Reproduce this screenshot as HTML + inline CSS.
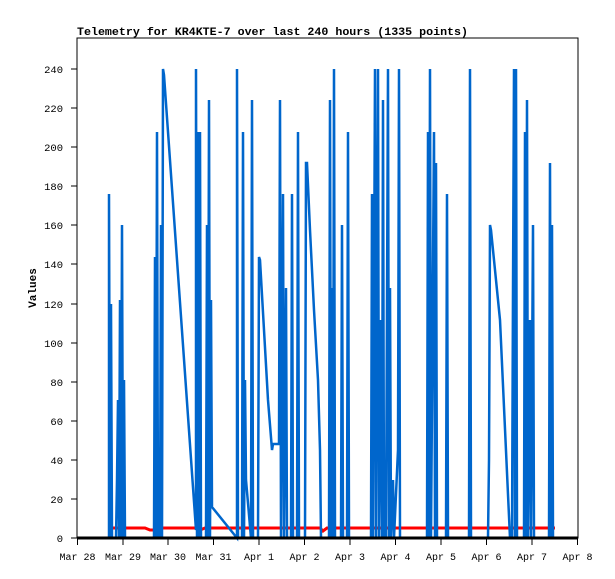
<!DOCTYPE html>
<html><head><style>
html,body{margin:0;padding:0;background:#fff;}
svg{display:block;font-family:"Liberation Mono","DejaVu Sans Mono",monospace;}
</style></head><body>
<svg width="615" height="579" xmlns="http://www.w3.org/2000/svg">
<rect width="615" height="579" fill="#fff"/>
<text x="77" y="35" font-size="11.4" font-weight="bold" textLength="391" lengthAdjust="spacingAndGlyphs">Telemetry for KR4KTE-7 over last 240 hours (1335 points)</text>
<rect x="77" y="38" width="501" height="500" fill="none" stroke="#000" stroke-width="1"/>
<g stroke="#000">
<line x1="71" y1="538" x2="77" y2="538"/><line x1="71" y1="499" x2="77" y2="499"/><line x1="71" y1="460" x2="77" y2="460"/><line x1="71" y1="421" x2="77" y2="421"/><line x1="71" y1="382" x2="77" y2="382"/><line x1="71" y1="343" x2="77" y2="343"/><line x1="71" y1="304" x2="77" y2="304"/><line x1="71" y1="264" x2="77" y2="264"/><line x1="71" y1="225" x2="77" y2="225"/><line x1="71" y1="186" x2="77" y2="186"/><line x1="71" y1="147" x2="77" y2="147"/><line x1="71" y1="108" x2="77" y2="108"/><line x1="71" y1="69" x2="77" y2="69"/>
</g>
<g font-size="10.5" text-anchor="end">
<text x="63" y="542">0</text><text x="63" y="503">20</text><text x="63" y="464">40</text><text x="63" y="425">60</text><text x="63" y="386">80</text><text x="63" y="347">100</text><text x="63" y="308">120</text><text x="63" y="268">140</text><text x="63" y="229">160</text><text x="63" y="190">180</text><text x="63" y="151">200</text><text x="63" y="112">220</text><text x="63" y="73">240</text>
</g>
<text x="36" y="288" font-size="11" font-weight="bold" transform="rotate(-90 36 288)" text-anchor="middle">Values</text>
<g stroke="#000"><line x1="77.5" y1="538" x2="77.5" y2="545"/><line x1="123" y1="538" x2="123" y2="545"/><line x1="168" y1="538" x2="168" y2="545"/><line x1="213.5" y1="538" x2="213.5" y2="545"/><line x1="259" y1="538" x2="259" y2="545"/><line x1="304.5" y1="538" x2="304.5" y2="545"/><line x1="350" y1="538" x2="350" y2="545"/><line x1="395.5" y1="538" x2="395.5" y2="545"/><line x1="441" y1="538" x2="441" y2="545"/><line x1="486.5" y1="538" x2="486.5" y2="545"/><line x1="532" y1="538" x2="532" y2="545"/><line x1="577.5" y1="538" x2="577.5" y2="545"/></g>
<g font-size="10" text-anchor="middle">
<text x="77.5" y="560">Mar 28</text><text x="123" y="560">Mar 29</text><text x="168" y="560">Mar 30</text><text x="213.5" y="560">Mar 31</text><text x="259" y="560">Apr 1</text><text x="304.5" y="560">Apr 2</text><text x="350" y="560">Apr 3</text><text x="395.5" y="560">Apr 4</text><text x="441" y="560">Apr 5</text><text x="486.5" y="560">Apr 6</text><text x="532" y="560">Apr 7</text><text x="577.5" y="560">Apr 8</text>
</g>
<polyline fill="none" stroke="#ff0000" stroke-width="3" points="108,528 145,528 150,530 155,530 160,528 195,528 200,530 205,528 320,528 323,531 327,528 555,528"/>
<polyline fill="none" stroke="#0066cc" stroke-width="2.5" points="
108,538 109,538 109,194 110,538 111,304 112,538 116,538 117,480 118,400 119,538 120,300 121,538 122,225 123,538 124,380 125,538
154,538 155,257 156,538 157,132 158,538 159,475 160,538 161,225 162,538 163,69 164,75 196,530 196,69 197,538 198,132 199,538 200,132 201,538
206,538 207,225 208,538 209,100 210,538 211,300 212,507 237,538 237,69 238,538 242,538 243,132 244,538 245,380 246,480 251,538 252,100 253,538
258,538 259,257 260,260 268,400 272,450 273,444 279,444 280,100 281,538 283,194 284,538 286,288 287,538 291,538 292,194 293,538 297,538 298,132 299,538
305,538 306,163 307,163 310,230 314,310 318,380 320,450 321,538 329,538 330,100 331,538 332,288 333,538 334,69 335,538 341,538 342,225 343,538 347,538 348,132 349,538
371,538 372,194 373,538 375,69 376,538 378,69 379,538 381,320 382,538 383,100 384,538 385,480 386,538 388,69 389,538 390,288 391,538 393,480 394,538 398,450 399,69 400,538
427,538 428,132 429,538 430,69 431,538 434,132 435,538 436,163 437,538 446,538 447,194 448,538
469,538 470,69 471,538 488,538 489,460 490,225 491,230 500,320 510,538
512,538 513,288 514,69 515,538 516,69 517,538 524,538 525,132 526,538 527,100 528,538 530,320 531,538 533,225 534,538
549,538 550,163 551,538 552,225 553,538"/>
<line x1="77" y1="538" x2="578" y2="538" stroke="#000" stroke-width="3"/>
</svg>
</body></html>
